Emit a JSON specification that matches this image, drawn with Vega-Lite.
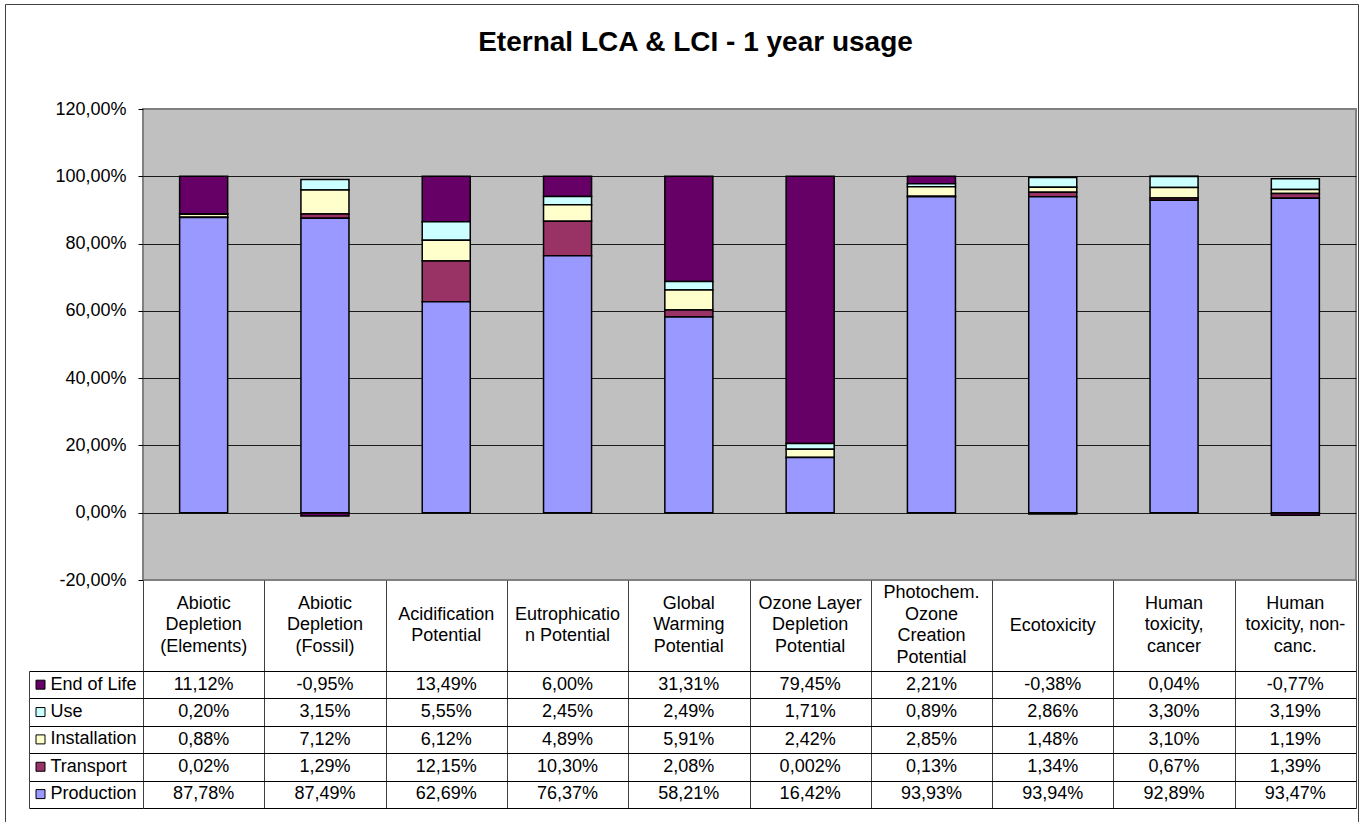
{
  "$schema": "https://vega.github.io/schema/vega-lite/v6.json",
  "padding": {"left": 4, "top": 3, "right": 0, "bottom": 0},
  "background": "#ffffff",
  "bounds": "flush",
  "spacing": 0,
  "config": {
    "locale": {"number": {"decimal": ",", "thousands": ".", "grouping": [3], "currency": ["", " €"], "minus": "-"}},
    "font": "Liberation Sans",
    "view": {"stroke": null}
  },
  "datasets": {
    "rows": [
      {"category": "Abiotic Depletion (Elements)", "series": "End of Life", "order": 5, "value": 0.1112},
      {"category": "Abiotic Depletion (Elements)", "series": "Use", "order": 4, "value": 0.0020},
      {"category": "Abiotic Depletion (Elements)", "series": "Installation", "order": 3, "value": 0.0088},
      {"category": "Abiotic Depletion (Elements)", "series": "Transport", "order": 2, "value": 0.0002},
      {"category": "Abiotic Depletion (Elements)", "series": "Production", "order": 1, "value": 0.8778},
      {"category": "Abiotic Depletion (Fossil)", "series": "End of Life", "order": 5, "value": -0.0095},
      {"category": "Abiotic Depletion (Fossil)", "series": "Use", "order": 4, "value": 0.0315},
      {"category": "Abiotic Depletion (Fossil)", "series": "Installation", "order": 3, "value": 0.0712},
      {"category": "Abiotic Depletion (Fossil)", "series": "Transport", "order": 2, "value": 0.0129},
      {"category": "Abiotic Depletion (Fossil)", "series": "Production", "order": 1, "value": 0.8749},
      {"category": "Acidification Potential", "series": "End of Life", "order": 5, "value": 0.1349},
      {"category": "Acidification Potential", "series": "Use", "order": 4, "value": 0.0555},
      {"category": "Acidification Potential", "series": "Installation", "order": 3, "value": 0.0612},
      {"category": "Acidification Potential", "series": "Transport", "order": 2, "value": 0.1215},
      {"category": "Acidification Potential", "series": "Production", "order": 1, "value": 0.6269},
      {"category": "Eutrophication Potential", "series": "End of Life", "order": 5, "value": 0.0600},
      {"category": "Eutrophication Potential", "series": "Use", "order": 4, "value": 0.0245},
      {"category": "Eutrophication Potential", "series": "Installation", "order": 3, "value": 0.0489},
      {"category": "Eutrophication Potential", "series": "Transport", "order": 2, "value": 0.1030},
      {"category": "Eutrophication Potential", "series": "Production", "order": 1, "value": 0.7637},
      {"category": "Global Warming Potential", "series": "End of Life", "order": 5, "value": 0.3131},
      {"category": "Global Warming Potential", "series": "Use", "order": 4, "value": 0.0249},
      {"category": "Global Warming Potential", "series": "Installation", "order": 3, "value": 0.0591},
      {"category": "Global Warming Potential", "series": "Transport", "order": 2, "value": 0.0208},
      {"category": "Global Warming Potential", "series": "Production", "order": 1, "value": 0.5821},
      {"category": "Ozone Layer Depletion Potential", "series": "End of Life", "order": 5, "value": 0.7945},
      {"category": "Ozone Layer Depletion Potential", "series": "Use", "order": 4, "value": 0.0171},
      {"category": "Ozone Layer Depletion Potential", "series": "Installation", "order": 3, "value": 0.0242},
      {"category": "Ozone Layer Depletion Potential", "series": "Transport", "order": 2, "value": 0.00002},
      {"category": "Ozone Layer Depletion Potential", "series": "Production", "order": 1, "value": 0.1642},
      {"category": "Photochem. Ozone Creation Potential", "series": "End of Life", "order": 5, "value": 0.0221},
      {"category": "Photochem. Ozone Creation Potential", "series": "Use", "order": 4, "value": 0.0089},
      {"category": "Photochem. Ozone Creation Potential", "series": "Installation", "order": 3, "value": 0.0285},
      {"category": "Photochem. Ozone Creation Potential", "series": "Transport", "order": 2, "value": 0.0013},
      {"category": "Photochem. Ozone Creation Potential", "series": "Production", "order": 1, "value": 0.9393},
      {"category": "Ecotoxicity", "series": "End of Life", "order": 5, "value": -0.0038},
      {"category": "Ecotoxicity", "series": "Use", "order": 4, "value": 0.0286},
      {"category": "Ecotoxicity", "series": "Installation", "order": 3, "value": 0.0148},
      {"category": "Ecotoxicity", "series": "Transport", "order": 2, "value": 0.0134},
      {"category": "Ecotoxicity", "series": "Production", "order": 1, "value": 0.9394},
      {"category": "Human toxicity, cancer", "series": "End of Life", "order": 5, "value": 0.0004},
      {"category": "Human toxicity, cancer", "series": "Use", "order": 4, "value": 0.0330},
      {"category": "Human toxicity, cancer", "series": "Installation", "order": 3, "value": 0.0310},
      {"category": "Human toxicity, cancer", "series": "Transport", "order": 2, "value": 0.0067},
      {"category": "Human toxicity, cancer", "series": "Production", "order": 1, "value": 0.9289},
      {"category": "Human toxicity, non-canc.", "series": "End of Life", "order": 5, "value": -0.0077},
      {"category": "Human toxicity, non-canc.", "series": "Use", "order": 4, "value": 0.0319},
      {"category": "Human toxicity, non-canc.", "series": "Installation", "order": 3, "value": 0.0119},
      {"category": "Human toxicity, non-canc.", "series": "Transport", "order": 2, "value": 0.0139},
      {"category": "Human toxicity, non-canc.", "series": "Production", "order": 1, "value": 0.9347}
    ],
    "cats": [
      {"category": "Abiotic Depletion (Elements)", "lines": ["Abiotic", "Depletion", "(Elements)"]},
      {"category": "Abiotic Depletion (Fossil)", "lines": ["Abiotic", "Depletion", "(Fossil)"]},
      {"category": "Acidification Potential", "lines": ["Acidification", "Potential"]},
      {"category": "Eutrophication Potential", "lines": ["Eutrophicatio", "n Potential"]},
      {"category": "Global Warming Potential", "lines": ["Global", "Warming", "Potential"]},
      {"category": "Ozone Layer Depletion Potential", "lines": ["Ozone Layer", "Depletion", "Potential"]},
      {"category": "Photochem. Ozone Creation Potential", "lines": ["Photochem.", "Ozone", "Creation", "Potential"]},
      {"category": "Ecotoxicity", "lines": ["Ecotoxicity"]},
      {"category": "Human toxicity, cancer", "lines": ["Human", "toxicity,", "cancer"]},
      {"category": "Human toxicity, non-canc.", "lines": ["Human", "toxicity, non-", "canc."]}
    ],
    "frame": [{"part": "chart area"}]
  },
  "vconcat": [
    {
      "width": 1213,
      "height": 471,
      "title": {"text": "Eternal LCA & LCI - 1 year usage", "font": "Liberation Sans", "fontSize": 28, "fontWeight": "bold", "color": "#000000", "anchor": "middle", "frame": "group", "dx": -54, "offset": 21, "baseline": "alphabetic"},
      "data": {"name": "rows"},
      "view": {"fill": "#C0C0C0", "stroke": "#808080", "strokeWidth": 2},
      "mark": {"type": "bar", "stroke": "#000000", "strokeWidth": 1.5},
      "encoding": {
        "x": {"field": "category", "type": "nominal", "scale": {"type": "band", "domain": ["Abiotic Depletion (Elements)", "Abiotic Depletion (Fossil)", "Acidification Potential", "Eutrophication Potential", "Global Warming Potential", "Ozone Layer Depletion Potential", "Photochem. Ozone Creation Potential", "Ecotoxicity", "Human toxicity, cancer", "Human toxicity, non-canc."], "paddingInner": 0.604, "paddingOuter": 0.302}, "axis": null},
        "y": {"field": "value", "type": "quantitative", "stack": "zero", "scale": {"domain": [-0.2, 1.2], "nice": false, "zero": false},
          "axis": {"values": [-0.2, 0, 0.2, 0.4, 0.6, 0.8, 1.0, 1.2], "format": ".2%", "title": null, "domain": false, "ticks": true, "tickColor": "#000000", "tickSize": 5, "tickWidth": 1, "labelFont": "Liberation Sans", "labelFontSize": 18, "labelColor": "#000000", "labelPadding": 12, "grid": true, "gridColor": {"condition": {"test": "datum.value < -0.19 || datum.value > 1.19", "value": "#808080"}, "value": "#1a1a1a"}, "gridWidth": 1, "gridOpacity": 1}},
        "color": {"field": "series", "type": "nominal", "scale": {"domain": ["End of Life", "Use", "Installation", "Transport", "Production"], "range": ["#660066", "#CCFFFF", "#FFFFCC", "#993366", "#9999FF"]},
          "legend": {"orient": "none", "legendX": -111.5, "legendY": 566.7, "title": null, "symbolType": "square", "symbolSize": 81, "symbolStrokeColor": "#000000", "symbolStrokeWidth": 1, "symbolOpacity": 1, "labelFont": "Liberation Sans", "labelFontSize": 18, "labelColor": "#000000", "labelOffset": 1, "rowPadding": 9.35, "padding": 0, "labelLimit": 300}},
        "order": {"field": "order", "type": "quantitative"}
      }
    },
    {
      "width": 1213,
      "height": 91,
      "data": {"name": "cats"},
      "encoding": {
        "x": {"field": "category", "type": "nominal", "scale": {"type": "band", "domain": ["Abiotic Depletion (Elements)", "Abiotic Depletion (Fossil)", "Acidification Potential", "Eutrophication Potential", "Global Warming Potential", "Ozone Layer Depletion Potential", "Photochem. Ozone Creation Potential", "Ecotoxicity", "Human toxicity, cancer", "Human toxicity, non-canc."], "paddingInner": 0, "paddingOuter": 0},
          "axis": {"orient": "bottom", "grid": true, "tickBand": "extent", "labels": false, "ticks": false, "domain": false, "title": null, "gridColor": "#404040", "gridWidth": 1, "gridOpacity": 1}},
        "text": {"field": "lines"}
      },
      "layer": [
        {"transform": [{"filter": "length(datum.lines) == 1"}], "mark": {"type": "text", "font": "Liberation Sans", "fontSize": 18, "lineHeight": 21.7, "color": "#000000", "align": "center", "baseline": "middle", "dy": 0}},
        {"transform": [{"filter": "length(datum.lines) == 2"}], "mark": {"type": "text", "font": "Liberation Sans", "fontSize": 18, "lineHeight": 21.7, "color": "#000000", "align": "center", "baseline": "middle", "dy": -10.85}},
        {"transform": [{"filter": "length(datum.lines) == 3"}], "mark": {"type": "text", "font": "Liberation Sans", "fontSize": 18, "lineHeight": 21.7, "color": "#000000", "align": "center", "baseline": "middle", "dy": -21.7}},
        {"transform": [{"filter": "length(datum.lines) == 4"}], "mark": {"type": "text", "font": "Liberation Sans", "fontSize": 18, "lineHeight": 21.7, "color": "#000000", "align": "center", "baseline": "middle", "dy": -32.55}}
      ]
    },
    {
      "width": 1213,
      "height": 137,
      "resolve": {"scale": {"x": "independent", "y": "independent"}, "axis": {"x": "independent", "y": "independent"}},
      "layer": [
        {
          "data": {"name": "rows"},
          "encoding": {
            "x": {"field": "category", "type": "nominal", "scale": {"type": "band", "domain": ["Abiotic Depletion (Elements)", "Abiotic Depletion (Fossil)", "Acidification Potential", "Eutrophication Potential", "Global Warming Potential", "Ozone Layer Depletion Potential", "Photochem. Ozone Creation Potential", "Ecotoxicity", "Human toxicity, cancer", "Human toxicity, non-canc."], "paddingInner": 0, "paddingOuter": 0},
              "axis": {"orient": "bottom", "grid": true, "tickBand": "extent", "labels": false, "ticks": false, "domain": false, "title": null, "gridColor": "#404040", "gridWidth": 1, "gridOpacity": 1}},
            "y": {"field": "series", "type": "nominal", "scale": {"type": "band", "domain": ["End of Life", "Use", "Installation", "Transport", "Production"], "paddingInner": 0, "paddingOuter": 0},
              "axis": {"orient": "left", "offset": 114, "tickSize": -114, "tickBand": "extent", "ticks": true, "tickColor": "#000000", "tickWidth": 1, "grid": true, "gridColor": "#000000", "gridWidth": 1, "gridOpacity": 1, "domain": true, "domainColor": "#404040", "domainWidth": 1, "labels": false, "title": null}}
          },
          "layer": [
            {
              "transform": [{"filter": "datum.value <= 0 || datum.value >= 0.0001"}],
              "mark": {"type": "text", "font": "Liberation Sans", "fontSize": 18, "color": "#000000", "align": "center", "baseline": "middle"},
              "encoding": {"text": {"field": "value", "type": "quantitative", "format": ".2%"}}
            },
            {
              "transform": [{"filter": "datum.value > 0 && datum.value < 0.0001"}],
              "mark": {"type": "text", "font": "Liberation Sans", "fontSize": 18, "color": "#000000", "align": "center", "baseline": "middle"},
              "encoding": {"text": {"field": "value", "type": "quantitative", "format": ".3%"}}
            }
          ]
        },
        {
          "data": {"name": "frame"},
          "mark": {"type": "rule", "color": "#404040", "strokeWidth": 1},
          "encoding": {
            "x": {"datum": -1.1336, "type": "quantitative", "scale": {"domain": [0, 10], "nice": false, "zero": false}, "axis": null},
            "y": {"datum": 5.865, "type": "quantitative", "scale": {"domain": [0, 1], "nice": false, "zero": false}, "axis": null},
            "y2": {"datum": -0.102}
          }
        },
        {
          "data": {"name": "frame"},
          "mark": {"type": "rule", "color": "#404040", "strokeWidth": 1},
          "encoding": {
            "x": {"datum": 10.0206, "type": "quantitative", "scale": {"domain": [0, 10], "nice": false, "zero": false}, "axis": null},
            "y": {"datum": 5.865, "type": "quantitative", "scale": {"domain": [0, 1], "nice": false, "zero": false}, "axis": null},
            "y2": {"datum": -0.102}
          }
        },
        {
          "data": {"name": "frame"},
          "mark": {"type": "rule", "color": "#404040", "strokeWidth": 1},
          "encoding": {
            "x": {"datum": -1.1336, "type": "quantitative", "scale": {"domain": [0, 10], "nice": false, "zero": false}, "axis": null},
            "x2": {"datum": 10.0206},
            "y": {"datum": 5.865, "type": "quantitative", "scale": {"domain": [0, 1], "nice": false, "zero": false}, "axis": null}
          }
        }
      ]
    }
  ]
}
